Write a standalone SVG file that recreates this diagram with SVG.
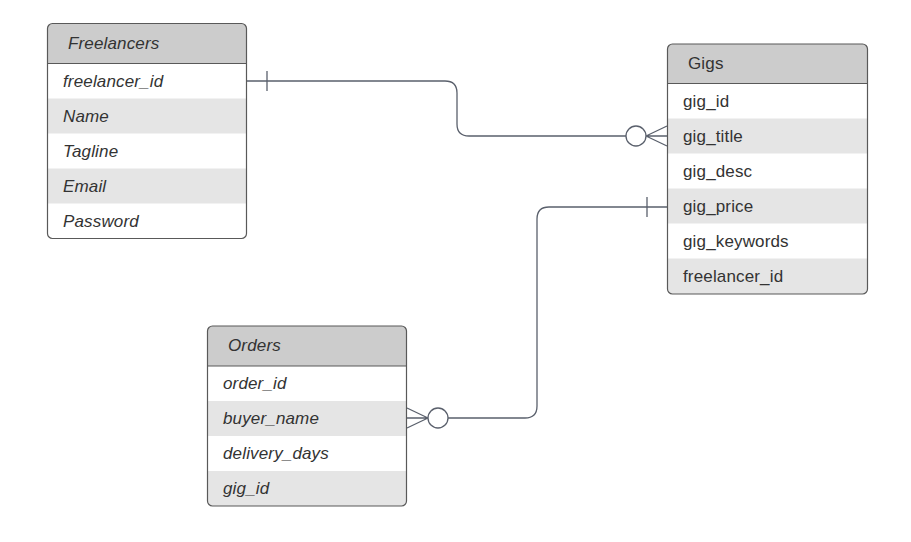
<svg xmlns="http://www.w3.org/2000/svg" width="911" height="542" viewBox="0 0 911 542">
<style>
.box{fill:none;stroke:#595959;stroke-width:1.2}
.hdr{fill:#cccccc}
.alt{fill:#e5e5e5}
.sep{stroke:#595959;stroke-width:1}
.t{font-family:"Liberation Sans",Arial,sans-serif;font-size:17px;fill:#333333;letter-spacing:0.15px}
.i{font-style:italic}
.c{fill:none;stroke:#5a606c;stroke-width:1.3}
</style>
<defs>
<clipPath id="cf"><rect x="47.5" y="23.5" width="199" height="215" rx="5"/></clipPath>
<clipPath id="cg"><rect x="667.5" y="44" width="200" height="250" rx="5"/></clipPath>
<clipPath id="co"><rect x="207.5" y="326" width="199" height="180" rx="5"/></clipPath>
</defs>
<rect width="911" height="542" fill="#ffffff"/>
<g id="connectors">
<path class="c" d="M247 81 H445 Q457 81 457 93 V124 Q457 136 469 136 H626"/>
<path class="c" d="M267 71 V91"/>
<circle class="c" cx="636" cy="136" r="10"/>
<path class="c" d="M646 136 L667 126 M646 136 H667 M646 136 L667 146"/>
<path class="c" d="M667 207 H549 Q537 207 537 219 V406 Q537 418 525 418 H448"/>
<path class="c" d="M647 197 V217"/>
<circle class="c" cx="438" cy="418" r="10"/>
<path class="c" d="M428 418 L407 408 M428 418 H407 M428 418 L407 428"/>
</g>
<g id="freelancers">
<g clip-path="url(#cf)">
<rect x="47.5" y="23.5" width="199" height="215" fill="#ffffff"/>
<rect class="hdr" x="47.5" y="23.5" width="199" height="40"/>
<rect class="alt" x="47.5" y="98.5" width="199" height="35"/>
<rect class="alt" x="47.5" y="168.5" width="199" height="35"/>
</g>
<line class="sep" x1="47.5" y1="63.5" x2="246.5" y2="63.5"/>
<rect class="box" x="47.5" y="23.5" width="199" height="215" rx="5"/>
<text class="t i" x="68" y="49">Freelancers</text>
<text class="t i" x="63" y="87">freelancer_id</text>
<text class="t i" x="63" y="122">Name</text>
<text class="t i" x="63" y="157">Tagline</text>
<text class="t i" x="63" y="192">Email</text>
<text class="t i" x="63" y="227">Password</text>
</g>
<g id="gigs">
<g clip-path="url(#cg)">
<rect x="667.5" y="44" width="200" height="250" fill="#ffffff"/>
<rect class="hdr" x="667.5" y="44" width="200" height="39.5"/>
<rect class="alt" x="667.5" y="118.5" width="200" height="35"/>
<rect class="alt" x="667.5" y="188.5" width="200" height="35"/>
<rect class="alt" x="667.5" y="258.5" width="200" height="35.5"/>
</g>
<line class="sep" x1="667.5" y1="83.5" x2="867.5" y2="83.5"/>
<rect class="box" x="667.5" y="44" width="200" height="250" rx="5"/>
<text class="t" x="688" y="69">Gigs</text>
<text class="t" x="683" y="107">gig_id</text>
<text class="t" x="683" y="142">gig_title</text>
<text class="t" x="683" y="177">gig_desc</text>
<text class="t" x="683" y="212">gig_price</text>
<text class="t" x="683" y="247">gig_keywords</text>
<text class="t" x="683" y="282">freelancer_id</text>
</g>
<g id="orders">
<g clip-path="url(#co)">
<rect x="207.5" y="326" width="199" height="180" fill="#ffffff"/>
<rect class="hdr" x="207.5" y="326" width="199" height="40"/>
<rect class="alt" x="207.5" y="401" width="199" height="35"/>
<rect class="alt" x="207.5" y="471" width="199" height="35"/>
</g>
<line class="sep" x1="207.5" y1="366" x2="406.5" y2="366"/>
<rect class="box" x="207.5" y="326" width="199" height="180" rx="5"/>
<text class="t i" x="228" y="351">Orders</text>
<text class="t i" x="223" y="389">order_id</text>
<text class="t i" x="223" y="424">buyer_name</text>
<text class="t i" x="223" y="459">delivery_days</text>
<text class="t i" x="223" y="494">gig_id</text>
</g>
</svg>
